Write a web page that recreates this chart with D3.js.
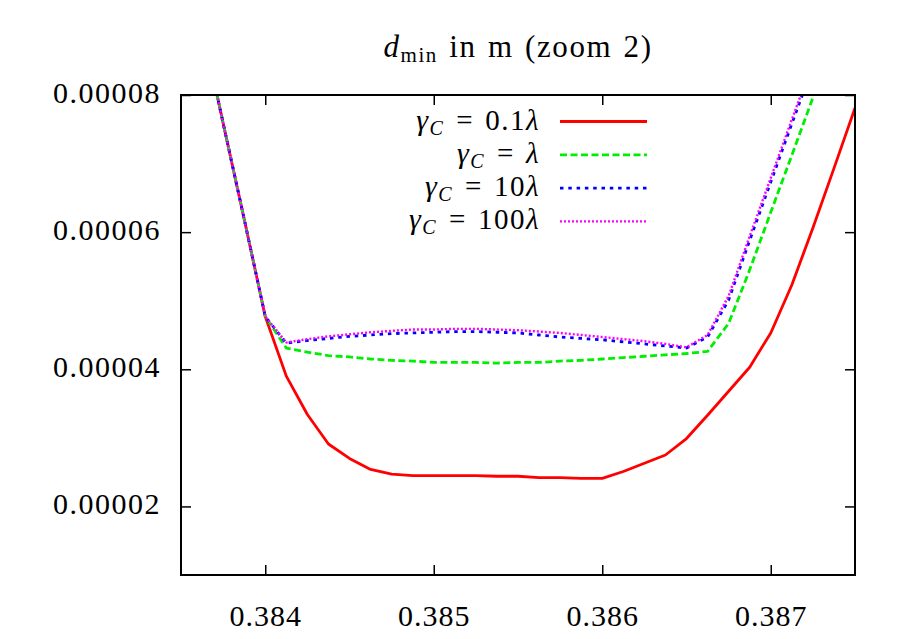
<!DOCTYPE html>
<html>
<head>
<meta charset="utf-8">
<script src="https://cdn.jsdelivr.net/npm/d3@7"></script>
<style>
  body { margin: 0; background: #fff; }
  svg { display: block; }
  svg text { font-family: "Liberation Serif", "DejaVu Serif", "Times New Roman", Times, serif; fill: #000; }
</style>
</head>
<body>
<div id="container"></div>
<script>
// datos (x: posición, y: d_min en m)
const xs = [0.3835, 0.383625, 0.38375, 0.383875, 0.384, 0.384125, 0.38425, 0.384375,
            0.3845, 0.384625, 0.38475, 0.384875, 0.385, 0.385125, 0.38525, 0.385375,
            0.3855, 0.385625, 0.38575, 0.385875, 0.386, 0.386125, 0.38625, 0.386375,
            0.3865, 0.386625, 0.38675, 0.386875, 0.387, 0.387125, 0.38725, 0.387375, 0.3875];

const red = [10.4e-5, 9.01e-5, 7.59e-5, 6.19e-5, 4.77e-5, 3.90e-5, 3.34e-5, 2.91e-5,
             2.70e-5, 2.54e-5, 2.47e-5, 2.45e-5, 2.45e-5, 2.45e-5, 2.45e-5, 2.44e-5,
             2.44e-5, 2.42e-5, 2.42e-5, 2.41e-5, 2.41e-5, 2.51e-5, 2.63e-5, 2.75e-5,
             2.99e-5, 3.33e-5, 3.68e-5, 4.03e-5, 4.53e-5, 5.23e-5, 6.06e-5, 6.93e-5, 7.81e-5];

const green = [10.4e-5, 9.01e-5, 7.59e-5, 6.19e-5, 4.77e-5, 4.31e-5, 4.25e-5, 4.20e-5,
               4.18e-5, 4.15e-5, 4.13e-5, 4.12e-5, 4.10e-5, 4.10e-5, 4.10e-5, 4.09e-5,
               4.10e-5, 4.10e-5, 4.12e-5, 4.13e-5, 4.15e-5, 4.17e-5, 4.19e-5, 4.21e-5,
               4.23e-5, 4.26e-5, 4.67e-5, 5.45e-5, 6.29e-5, 7.12e-5, 7.96e-5, 8.80e-5, 9.68e-5];

const blue = [10.4e-5, 9.01e-5, 7.59e-5, 6.19e-5, 4.77e-5, 4.38e-5, 4.42e-5, 4.45e-5,
              4.48e-5, 4.50e-5, 4.52e-5, 4.53e-5, 4.54e-5, 4.55e-5, 4.55e-5, 4.54e-5,
              4.53e-5, 4.50e-5, 4.47e-5, 4.45e-5, 4.43e-5, 4.40e-5, 4.37e-5, 4.34e-5,
              4.31e-5, 4.47e-5, 5.01e-5, 5.88e-5, 6.73e-5, 7.58e-5, 8.42e-5, 9.27e-5, 10.12e-5];

const magenta = [10.4e-5, 9.01e-5, 7.59e-5, 6.19e-5, 4.77e-5, 4.39e-5, 4.44e-5, 4.48e-5,
                 4.51e-5, 4.54e-5, 4.56e-5, 4.58e-5, 4.58e-5, 4.59e-5, 4.59e-5, 4.58e-5,
                 4.57e-5, 4.55e-5, 4.53e-5, 4.50e-5, 4.47e-5, 4.44e-5, 4.41e-5, 4.37e-5,
                 4.32e-5, 4.50e-5, 5.07e-5, 5.94e-5, 6.79e-5, 7.64e-5, 8.48e-5, 9.33e-5, 10.18e-5];

const coefficients = ['0.1', '', '10', '100'];   // gamma_C = coef * lambda
const xTicks = [0.384, 0.385, 0.386, 0.387];
const yTicks = [0.00002, 0.00004, 0.00006, 0.00008];
const yTickLabels = ['0.00002', '0.00004', '0.00006', '0.00008'];

const WIDTH = 913;
const HEIGHT = 639;
const MARGIN = { TOP: 95, BOTTOM: 64, LEFT: 181, RIGHT: 58 };

const width = WIDTH - MARGIN.LEFT - MARGIN.RIGHT;
const height = HEIGHT - MARGIN.TOP - MARGIN.BOTTOM;

const svg = d3.select('#container')
              .append('svg')
                .attr('width', WIDTH)
                .attr('height', HEIGHT);

const container = svg.append('g')
                     .attr('transform', `translate(${MARGIN.LEFT}, ${MARGIN.TOP})`);

const x = d3.scaleLinear().domain([0.3835, 0.3875]).range([0, width]);
const y = d3.scaleLinear().domain([0.00001, 0.00008]).range([height, 0]);

// recorte para que las curvas no salgan del marco
svg.append('defs').append('clipPath')
   .attr('id', 'clip')
   .append('rect')
     .attr('width', width)
     .attr('height', height);

// ejes: ticks hacia adentro en los cuatro lados, estilo gnuplot
const TICK = 10;
const tickStyle = g => {
  g.attr('font-family', null).attr('font-size', null);
  g.select('.domain').remove();
  g.selectAll('.tick line').attr('stroke', '#000').attr('stroke-width', 1.5);
};

container.append('g')
  .attr('transform', `translate(0,${height})`)
  .call(d3.axisBottom(x).tickValues(xTicks).tickSizeInner(-TICK).tickSizeOuter(0)
          .tickPadding(30).tickFormat(d3.format('.3f')))
  .call(tickStyle)
  .call(g => g.selectAll('text')
              .style('font-size', '30px')
              .style('letter-spacing', '1px'));

container.append('g')
  .call(d3.axisTop(x).tickValues(xTicks).tickSizeInner(-TICK).tickSizeOuter(0).tickFormat(''))
  .call(tickStyle);

container.append('g')
  .call(d3.axisLeft(y).tickValues(yTicks).tickSizeInner(-TICK).tickSizeOuter(0)
          .tickPadding(20).tickFormat((d, i) => yTickLabels[i]))
  .call(tickStyle)
  .call(g => g.selectAll('text')
              .style('font-size', '30px')
              .style('letter-spacing', '1.5px')
              .attr('dy', '0.25em'));

container.append('g')
  .attr('transform', `translate(${width},0)`)
  .call(d3.axisRight(y).tickValues(yTicks).tickSizeInner(-TICK).tickSizeOuter(0).tickFormat(''))
  .call(tickStyle);

// series
const series = [
  { values: red,     color: '#ff0000', width: 2.8, dash: null },
  { values: green,   color: '#00ee00', width: 2.8, dash: '7,3.5' },
  { values: blue,    color: '#0000ff', width: 2.8, dash: '3.5,4.8' },
  { values: magenta, color: '#ff00ff', width: 2.4, dash: '2,2' }
];

const line = d3.line()
               .x((d, i) => x(xs[i]))
               .y(d => y(d));

container.append('g')
  .attr('clip-path', 'url(#clip)')
  .selectAll('path')
  .data(series)
  .enter()
  .append('path')
    .attr('d', d => line(d.values))
    .attr('fill', 'none')
    .attr('stroke', d => d.color)
    .attr('stroke-width', d => d.width)
    .attr('stroke-dasharray', d => d.dash)
    .attr('stroke-linejoin', 'round');

// marco
container.append('rect')
  .attr('width', width)
  .attr('height', height)
  .attr('fill', 'none')
  .attr('stroke', '#000')
  .attr('stroke-width', 2);

// leyenda
const legend = container.append('g').attr('class', 'legend');
const rows = legend.selectAll('g')
  .data(series)
  .enter()
  .append('g')
    .attr('transform', (d, i) => `translate(0, ${26.5 + i * 33.3})`);

rows.append('line')
  .attr('x1', 379)
  .attr('x2', 466)
  .attr('stroke', d => d.color)
  .attr('stroke-width', d => d.width)
  .attr('stroke-dasharray', d => d.dash);

const label = rows.append('text')
  .attr('x', 359)
  .attr('y', 8)
  .attr('text-anchor', 'end')
  .style('font-size', '29px')
  .style('letter-spacing', '1.5px');

label.append('tspan').style('font-style', 'italic').style('font-size', '30px').text('γ');
label.append('tspan').style('font-style', 'italic').style('font-size', '20px').attr('dy', 5).text('C');
label.append('tspan').attr('dy', -5).attr('dx', 12).text('=');
label.filter((d, i) => coefficients[i] !== '')
     .append('tspan').attr('dx', 11).text(d => coefficients[series.indexOf(d)]);
label.append('tspan')
     .attr('dx', (d, i) => coefficients[i] === '' ? 11 : 0)
     .style('font-style', 'italic')
     .text('λ');

// título
const title = svg.append('text')
  .attr('x', 518)
  .attr('y', 57)
  .attr('text-anchor', 'middle')
  .style('font-size', '31px')
  .style('letter-spacing', '1.6px')
  .style('word-spacing', '2px');

title.append('tspan').style('font-style', 'italic').text('d');
title.append('tspan').style('font-size', '21px').attr('dy', 5).text('min');
title.append('tspan').attr('dy', -5).text(' in m (zoom 2)');
</script>
</body>
</html>
